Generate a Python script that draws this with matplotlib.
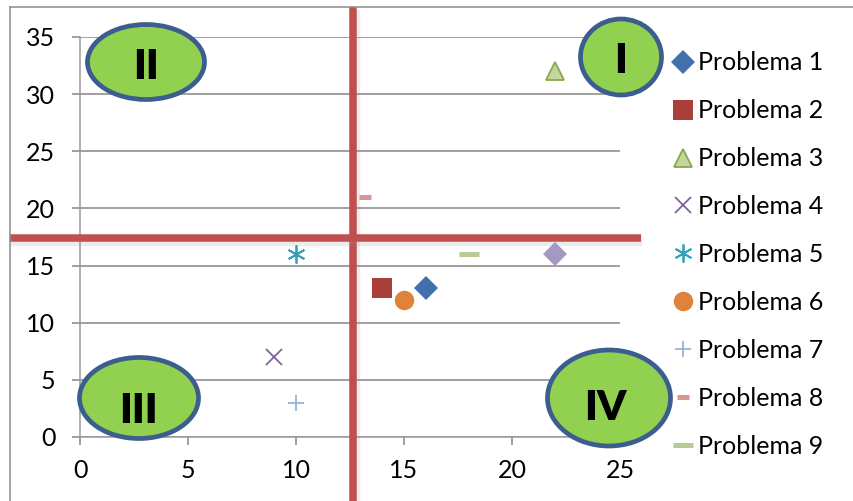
import matplotlib
matplotlib.use("Agg")
import matplotlib.pyplot as plt
from matplotlib.patches import Ellipse
from matplotlib.lines import Line2D
import matplotlib.patheffects as pe

# ---------------- data ----------------
series_labels = ["Problema 1", "Problema 2", "Problema 3", "Problema 4", "Problema 5",
                 "Problema 6", "Problema 7", "Problema 8", "Problema 9", None]
x_values = [16, 14, 22, 9, 10, 15, 10, 13.2, 18, 22]
y_values = [13, 13, 32, 7, 16, 12, 3, 21, 16, 16]
x_ticks = [0, 5, 10, 15, 20, 25]
y_ticks = [0, 5, 10, 15, 20, 25, 30, 35]
x_split = 12.65
y_split = 17.4
quadrant_labels = ["I", "II", "III", "IV"]

# ---------------- styles ----------------
FONT = ["Lato", "DejaVu Sans"]
plt.rcParams["font.family"] = FONT
marker_styles = [
    dict(marker="D", ms=12.5, mfc="#4170ad", mec="#4170ad", mew=0),
    dict(marker="s", ms=14.0, mfc="#aa3f3c", mec="#aa3f3c", mew=0),
    dict(marker="^", ms=13.0, mfc="#c3d69b", mec="#88a84e", mew=1.3),
    dict(marker="x", ms=11.0, mfc="none", mec="#7e61a0", mew=1.3),
    dict(marker=(6, 2, 0), ms=13.0, mfc="none", mec="#35a0b8", mew=1.3),
    dict(marker="o", ms=14.0, mfc="#e0823a", mec="#e0823a", mew=0),
    dict(marker="+", ms=12.0, mfc="none", mec="#95b3d7", mew=1.3),
    dict(marker="_", ms=8.0, mfc="none", mec="#d99694", mew=3.6),
    dict(marker="_", ms=14.4, mfc="none", mec="#b6cc93", mew=3.6),
    dict(marker="D", ms=12.5, mfc="#a598c1", mec="#a598c1", mew=0),
]
TEXT_SIZE = 18

W, H = 854, 501
fig = plt.figure(figsize=(W / 100, H / 100), dpi=100)
L, R, T, B = 80, 620, 37, 437
ax = fig.add_axes([L / W, 1 - B / H, (R - L) / W, (B - T) / H])
pxw, pxh = R - L, B - T

ax.set_xlim(0, 25)
ax.set_ylim(0, 35)
ax.set_xticks(x_ticks)
ax.set_yticks(y_ticks)
ax.yaxis.grid(True, color="#868686", linewidth=1.1)
ax.set_axisbelow(True)
for s in ["top", "right"]:
    ax.spines[s].set_visible(False)
for s in ["left", "bottom"]:
    ax.spines[s].set_color("#9a9a9a")
    ax.spines[s].set_linewidth(1.1)
ax.tick_params(axis="both", direction="out", length=5.8, width=1.1, color="#868686",
               labelsize=TEXT_SIZE, labelcolor="black")
ax.tick_params(axis="y", pad=12)
ax.tick_params(axis="x", pad=10)

# ---------------- points ----------------
handles = []
for lab, xv, yv, st in zip(series_labels, x_values, y_values, marker_styles):
    h, = ax.plot([xv], [yv], linestyle="none", clip_on=False, zorder=4,
                 label=lab if lab else "_nolegend_", **st)
    handles.append(h)

# ---------------- threshold lines ----------------
shadow = [pe.SimpleLineShadow(offset=(1.0, -2.0), shadow_color="#9a9a9a", alpha=0.18,
                              linewidth=7.5),
          pe.Normal()]
ax.axvline(x_split, ymin=(B - H) / pxh, ymax=(B - 7) / pxh, color="#c0504d",
           linewidth=5.4, clip_on=False, zorder=3, path_effects=shadow,
           solid_capstyle="butt")
ax.axhline(y_split, xmin=(10 - L) / pxw, xmax=(641 - L) / pxw, color="#c0504d",
           linewidth=5.4, clip_on=False, zorder=3, path_effects=shadow,
           solid_capstyle="butt")

# ---------------- quadrant ellipses ----------------
# (center px x, center px y, width px, height px, text px x, text baseline px y)
ell_layout = [
    (621, 57, 81, 76, 621, 73),
    (146, 62, 117, 75, 146, 79),
    (139, 398, 119, 81, 138, 423),
    (609, 398, 123, 96, 605, 420),
]
for lab, (cx, cy, ew, eh, tx, ty) in zip(quadrant_labels, ell_layout):
    e = Ellipse(((cx - L) / pxw, (B - cy) / pxh), ew / pxw, eh / pxh,
                transform=ax.transAxes, facecolor="#92d050", edgecolor="#3b5e8f",
                linewidth=3.4, clip_on=False, zorder=6)
    ax.add_patch(e)
    ax.text((tx - L) / pxw, (B - ty) / pxh, lab, transform=ax.transAxes,
            ha="center", va="baseline", fontsize=30, fontweight="heavy",
            color="black", zorder=7, clip_on=False)

# ---------------- legend ----------------
leg = fig.legend(handles=handles[:9], loc="center left",
                 bbox_to_anchor=(671 / W, 1 - 254.5 / H),
                 frameon=False, fontsize=TEXT_SIZE, handlelength=0.95, handletextpad=0.15,
                 labelspacing=0.995, borderpad=0, borderaxespad=0, numpoints=1)

# ---------------- outer chart frame ----------------
fig.add_artist(Line2D([10 / W, 10 / W], [1 - 7 / H, 0], transform=fig.transFigure,
                      color="#8c8c8c", linewidth=1.1))
fig.add_artist(Line2D([10 / W, 1], [1 - 7 / H, 1 - 7 / H], transform=fig.transFigure,
                      color="#8c8c8c", linewidth=1.1))

fig.savefig("out.png", dpi=100)
